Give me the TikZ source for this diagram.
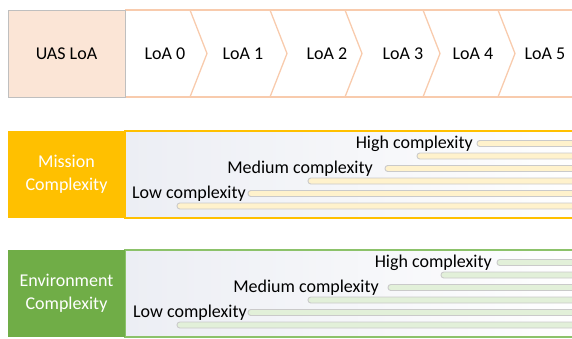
\documentclass[tikz,border=0pt]{standalone}
\usepackage{fontspec}
\setmainfont{Carlito}
\definecolor{peachfill}{HTML}{FBE5D6}
\definecolor{peachline}{HTML}{F8CBAD}
\definecolor{boxgray}{HTML}{BFBFBF}
\definecolor{mango}{HTML}{FFC000}
\definecolor{leaf}{HTML}{70AD47}
\definecolor{leafline}{HTML}{8CC26A}
\definecolor{panelgrey}{HTML}{ECEEF4}
\definecolor{ybarfill}{HTML}{FFF2CC}
\definecolor{gbarfill}{HTML}{E2F0D9}
\definecolor{barline}{HTML}{CACACA}
\tikzset{
  labelbox/.style={minimum width=117pt, minimum height=87pt, inner sep=0pt, align=center, font=\fontsize{18}{23}\selectfont},
  loatext/.style={inner sep=0pt, font=\fontsize{18}{22}\selectfont},
  cxtext/.style={inner sep=0pt, anchor=base east, font=\fontsize{18}{22}\selectfont},
  chev/.style={draw=peachline, line width=1.3pt},
  ybar/.style={draw=barline, fill=ybarfill, line width=0.9pt, rounded corners=2.8pt},
  gbar/.style={draw=barline, fill=gbarfill, line width=0.9pt, rounded corners=2.8pt}
}
\begin{document}
\begin{tikzpicture}[x=1pt,y=-1pt]
\clip (0,0) rectangle (572,338);
% ---------- top row ----------
\draw[chev] (125,10) -- (590,10);
\draw[chev] (125,97) -- (590,97);
\foreach \xt in {190,270,345,423,498}{
  \draw[chev] (\xt,10) -- (\xt+17,53.5) -- (\xt,97);
}
\node[labelbox, draw=boxgray, fill=peachfill, line width=0.8pt] (uas) at (66.5,53.5) {UAS LoA};
\node[loatext] (loa0) at (165,53.5) {LoA 0};
\node[loatext] (loa1) at (243,53.5) {LoA 1};
\node[loatext] (loa2) at (327,53.5) {LoA 2};
\node[loatext] (loa3) at (403,53.5) {LoA 3};
\node[loatext] (loa4) at (473,53.5) {LoA 4};
\node[loatext] (loa5) at (545,53.5) {LoA 5};
% ---------- mission ----------
\shade[left color=panelgrey, right color=white] (125,131) rectangle (590,218);
\draw[mango, line width=1.3pt] (125,131) rectangle (590,218);
\foreach \xs/\yb in {477/143.5, 417/156, 385/168.5, 308/181, 248/193.5, 177/206}{
  \draw[ybar] (\xs,\yb-3) rectangle (600,\yb+3);
}
\node[labelbox, fill=mango, text=white] (mis) at (66.5,174.5) {Mission\\Complexity};
\node[cxtext] (mhigh) at (473,148) {High complexity};
\node[cxtext] (mmed) at (373,173) {Medium complexity};
\node[cxtext] (mlow) at (246,198.5) {Low complexity};
% ---------- environment ----------
\shade[left color=panelgrey, right color=white] (125,250) rectangle (590,337);
\draw[leafline, line width=1.3pt] (125,250) rectangle (590,337);
\foreach \xs/\yb in {497/262.5, 441/275, 388/287.5, 308/300, 248/312.5, 177/325}{
  \draw[gbar] (\xs,\yb-3) rectangle (600,\yb+3);
}
\node[labelbox, fill=leaf, text=white] (env) at (66.5,293.5) {Environment\\Complexity};
\node[cxtext] (ehigh) at (492,267) {High complexity};
\node[cxtext] (emed) at (379,292) {Medium complexity};
\node[cxtext] (elow) at (247,317.5) {Low complexity};
\end{tikzpicture}
\end{document}
